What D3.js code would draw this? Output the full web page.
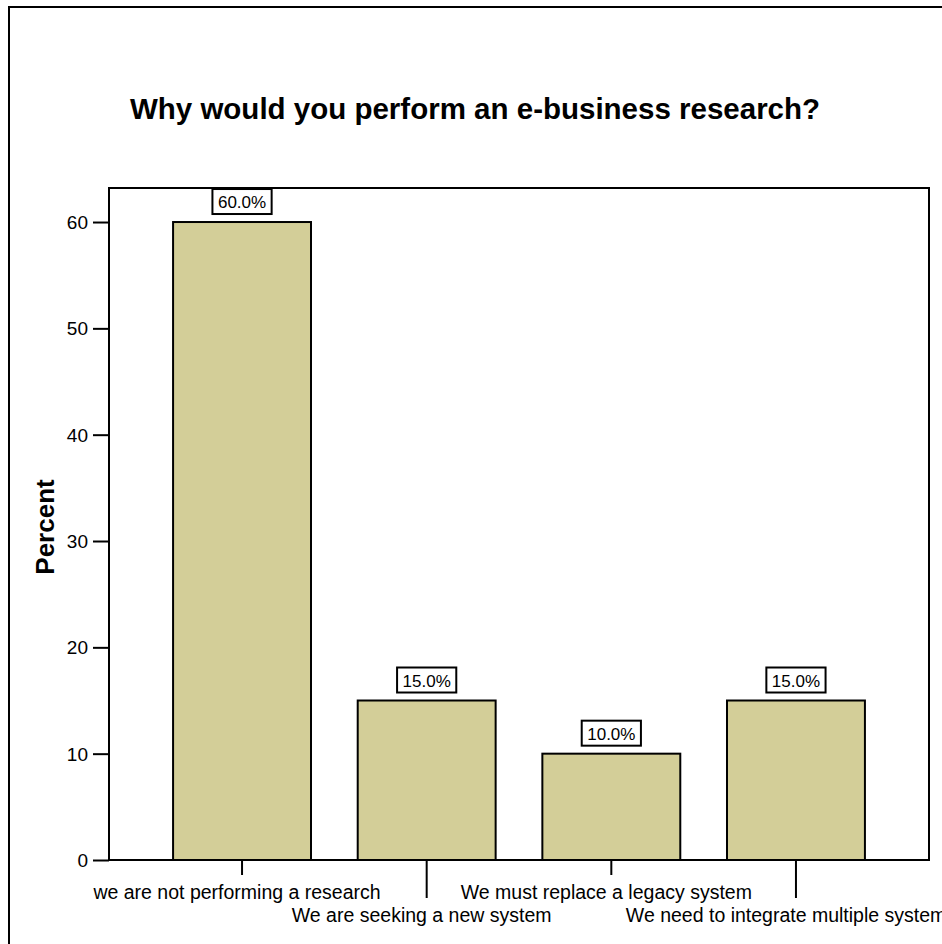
<!DOCTYPE html>
<html>
<head>
<meta charset="utf-8">
<script src="https://cdn.jsdelivr.net/npm/d3@7"></script>
<style>
  html, body { margin: 0; padding: 0; background: #fff; }
  svg { display: block; font-family: "Liberation Sans", Arial, sans-serif; }
</style>
</head>
<body>
<svg id="chart" width="942" height="944"></svg>
<script>
// Survey answers and their share of respondents (%)
const categories = [
  "we are not performing a research",
  "We are seeking a new system",
  "We must replace a legacy system",
  "We need to integrate multiple systems"
];
const percents = [60, 15, 10, 15];
const yTicks = [0, 10, 20, 30, 40, 50, 60];
const titleText = "Why would you perform an e-business research?";
const yAxisTitle = "Percent";

const svg = d3.select("#chart");
const frame = { left: 109, top: 188, right: 929, bottom: 860 };

// outer chart border (open on the right and bottom edges)
svg.append("rect")
  .attr("x", 9).attr("y", 7)
  .attr("width", 960).attr("height", 960)
  .attr("fill", "none").attr("stroke", "#000").attr("stroke-width", 2);

svg.append("text")
  .attr("x", 475).attr("y", 119)
  .attr("text-anchor", "middle")
  .attr("font-size", 29.5).attr("font-weight", "bold")
  .text(titleText);

const x = d3.scaleBand()
  .domain(categories)
  .range([frame.left, frame.right])
  .paddingInner(0.253)
  .paddingOuter(0.347);

const y = d3.scaleLinear()
  .domain([0, 63.2])
  .range([frame.bottom, frame.top]);

// plot frame
svg.append("rect")
  .attr("x", frame.left).attr("y", frame.top)
  .attr("width", frame.right - frame.left)
  .attr("height", frame.bottom - frame.top)
  .attr("fill", "none").attr("stroke", "#000").attr("stroke-width", 2);

// y axis
const yAxis = d3.axisLeft(y).tickValues(yTicks).tickSize(16).tickPadding(5).tickFormat(d3.format("d"));
const yg = svg.append("g").attr("transform", `translate(${frame.left},0)`).call(yAxis);
yg.select(".domain").remove();
yg.selectAll(".tick line").attr("stroke", "#000").attr("stroke-width", 2);
yg.selectAll(".tick text")
  .attr("font-size", 19).attr("font-family", "Liberation Sans, Arial, sans-serif")
  .attr("fill", "#000").attr("dy", "0.34em");

svg.append("text")
  .attr("transform", `translate(54,${(frame.top + frame.bottom) / 2 + 3}) rotate(-90)`)
  .attr("text-anchor", "middle")
  .attr("font-size", 26).attr("font-weight", "bold")
  .text(yAxisTitle);

// bars
const data = categories.map((c, i) => ({ cat: c, value: percents[i], i }));
svg.append("g").selectAll("rect")
  .data(data).join("rect")
  .attr("x", d => x(d.cat))
  .attr("y", d => y(d.value))
  .attr("width", x.bandwidth())
  .attr("height", d => y(0) - y(d.value))
  .attr("fill", "#D3CE98")
  .attr("stroke", "#000").attr("stroke-width", 2);

// redraw baseline on top of bar outlines
svg.append("line")
  .attr("x1", frame.left).attr("x2", frame.right)
  .attr("y1", frame.bottom).attr("y2", frame.bottom)
  .attr("stroke", "#000").attr("stroke-width", 2);

// value labels in boxes
const labels = svg.append("g").selectAll("g")
  .data(data).join("g")
  .attr("transform", d => `translate(${x(d.cat) + x.bandwidth() / 2},${y(d.value) - 8})`);
labels.append("text")
  .attr("text-anchor", "middle")
  .attr("y", -6)
  .attr("font-size", 17)
  .text(d => d3.format(".1f")(d.value) + "%");
labels.each(function () {
  const g = d3.select(this);
  const bb = g.select("text").node().getBBox();
  g.insert("rect", "text")
    .attr("x", -bb.width / 2 - 5.5).attr("y", -25)
    .attr("width", bb.width + 11).attr("height", 25)
    .attr("fill", "#fff").attr("stroke", "#000").attr("stroke-width", 2);
});

// category ticks and staggered labels
const cats = svg.append("g").selectAll("g")
  .data(data).join("g")
  .attr("transform", d => `translate(${x(d.cat) + x.bandwidth() / 2},${frame.bottom})`);
cats.append("line")
  .attr("y1", 0).attr("y2", d => d.i % 2 === 0 ? 15 : 38)
  .attr("stroke", "#000").attr("stroke-width", 2);
cats.append("text")
  .attr("text-anchor", "middle")
  .attr("x", -5)
  .attr("y", d => d.i % 2 === 0 ? 39 : 62)
  .attr("font-size", 19.5)
  .text(d => d.cat);
</script>
</body>
</html>
